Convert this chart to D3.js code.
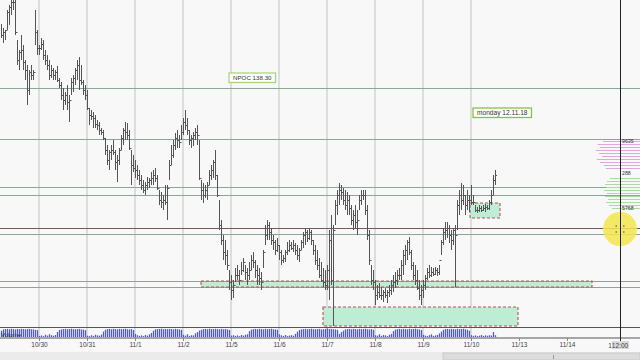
<!DOCTYPE html>
<html>
<head>
<meta charset="utf-8">
<script src="https://cdn.jsdelivr.net/npm/d3@7"></script>
<style>
html, body { margin: 0; padding: 0; background: #f8f8f8; }
svg { display: block; font-family: "Liberation Sans", Arial, sans-serif; }
</style>
</head>
<body>
<svg id="chart" width="640" height="360"></svg>
<script>
// Hourly bars, prices in ticks above 130.50 (1 tick = 0.025)
var highs = [
  376,372,370,390,395,400,403,400,360,350,365,355,
  340,335,330,335,330,390,370,355,362,360,350,345,
  340,335,332,330,334,322,318,312,308,315,305,322,
  325,332,340,343,335,320,315,310,292,290,288,285,
  280,278,272,270,262,255,250,255,260,250,245,252,
  265,272,278,277,270,250,245,240,235,230,225,220,
  218,223,222,228,230,232,225,210,208,205,215,215,
  240,255,260,267,270,265,275,282,290,282,270,265,
  268,272,275,260,220,217,215,218,230,235,240,250,
  225,200,180,165,160,150,130,125,120,132,135,130,
  138,142,135,132,138,145,148,140,135,132,128,150,
  175,180,178,172,165,160,162,155,150,145,150,158,
  160,158,160,157,155,152,160,168,172,170,172,170,
  160,155,150,142,138,132,130,135,170,185,175,200,
  210,217,215,212,210,208,205,195,190,195,190,205,
  210,210,210,195,170,135,130,120,115,117,113,110,
  112,110,115,120,125,128,130,132,140,150,155,160,
  163,150,138,135,130,120,115,120,125,132,135,133,
  132,133,132,135,160,172,178,178,175,170,172,175,
  200,210,217,215,205,210,205,215,205,195,193,195,
  194,195,196,195,200,210,225,230
];
var lows = [
  362,357,360,370,375,385,390,365,335,330,340,330,
  320,295,305,320,320,355,345,345,350,340,335,330,
  320,322,320,320,318,312,300,290,295,290,278,305,
  308,315,320,310,315,305,300,290,275,280,272,272,
  270,265,265,260,245,235,230,240,245,230,218,235,
  250,255,260,260,250,215,228,222,220,215,210,207,
  205,210,212,215,215,218,210,195,192,190,195,180,
  220,235,242,250,252,252,260,265,270,265,255,252,
  254,260,255,220,200,197,202,200,215,220,222,220,
  203,170,155,140,135,130,110,100,102,118,120,115,
  125,128,120,115,120,130,132,122,115,115,110,132,
  155,160,160,155,150,145,148,140,135,137,138,145,
  148,150,148,145,140,138,150,152,155,158,160,155,
  145,135,130,122,118,113,110,110,100,115,74,175,
  185,195,200,195,190,185,185,175,170,172,165,190,
  195,200,185,160,135,115,110,95,100,102,100,98,
  102,97,103,105,108,112,115,120,120,125,135,140,
  145,130,120,115,110,100,95,102,110,120,122,123,
  124,125,124,125,145,155,160,162,157,150,155,113,
  170,185,190,195,185,190,188,195,195,188,187,188,
  188,189,188,190,190,195,205,215
];
var closes = [
  365,368,370,388,393,398,398,368,340,348,350,338,
  330,310,328,325,328,368,352,352,356,345,340,335,
  325,330,325,328,320,315,305,300,305,298,300,318,
  322,330,335,320,318,310,305,292,285,284,282,276,
  275,270,268,262,250,240,248,250,248,238,240,250,
  262,270,268,265,252,235,232,230,225,220,215,210,
  215,218,220,222,225,222,212,200,198,200,198,212,
  235,245,255,262,260,258,268,278,275,270,260,262,
  265,268,265,222,210,205,210,215,225,230,238,225,
  205,175,160,148,145,135,118,110,115,125,125,120,
  130,138,128,125,130,140,138,130,125,122,118,148,
  165,175,168,160,158,150,155,148,140,142,148,150,
  155,152,155,150,145,150,158,165,168,162,168,160,
  150,140,135,125,120,118,115,130,160,120,170,195,
  205,210,208,200,195,200,192,180,185,178,180,200,
  205,205,190,165,140,120,118,105,108,105,105,108,
  105,108,110,115,118,120,125,125,135,145,150,158,
  148,135,125,120,112,105,110,115,122,128,125,128,
  126,130,128,140,158,168,170,172,165,160,170,165,
  195,205,200,205,195,200,200,198,198,190,190,192,
  190,192,193,192,198,205,220,225
];
var volumes = [
  70,85,88,90,86,92,88,84,90,87,91,89,85,88,90,86,84,80,76,
  12,18,10,25,15,30,20,14,22,
  55,78,85,88,90,86,89,92,87,85,88,90,84,82,75,
  15,10,20,12,25,18,14,28,
  60,80,88,90,86,91,88,85,90,87,89,92,86,84,88,78,
  35,20,12,18,10,22,15,30,45,
  70,85,88,90,92,86,89,87,90,88,85,91,86,84,80,
  25,15,30,12,20,18,40,
  55,72,80,88,90,86,92,89,87,90,88,85,91,86,88,84,78,
  15,20,12,18,10,22,16,25,30,
  65,82,88,90,86,91,88,85,90,87,89,92,86,84,80,
  30,18,12,22,10,16,20,14,35,
  60,78,85,88,90,86,89,92,87,85,88,90,84,86,89,95,88,90,86,84,80,
  35,55,
  70,85,88,90,86,91,88,85,90,87,89,92,86,84,88,80,
  20,15,30,12,22,18,10,25,35,
  65,82,88,90,86,91,88,85,90,87,89,92,86,84,78,
  25,15,10,20,30,12,18,22,40,
  60,80,88,90,86,91,88,85,90,87,89,92,86,80,70,
  20,12,18,10,15,22,12,18,14,20,16,
  55,20
];

// day labels sit on the first bar of each day
var dayLabels = ["10/30","10/31","11/1","11/2","11/5","11/6","11/7","11/8","11/9","11/10","11/13","11/14"];
var firstDayIndex = 19, barsPerDay = 24, daysWithData = 10;

// horizontal price levels (ticks) and the darker one
var levels = [312, 261, 213, 205, 172, 166, 119, 113];
var darkLevel = 172;

// zones: [startBar, endBar, topTick, bottomTick]
var zones = [[100, 295.5, 119, 113], [161, 258.5, 93, 74], [234.5, 249.5, 197, 182]];

// volume profile on the right
var profileHiLevels = [259,256,253,250,247,244,241,238,235,232];
var profileHiVols   = [410,470,445,490,455,420,480,445,400,380];
var profileLoLevels = [222,219,216,213,210,207,204,201,198,195,192];
var profileLoVols   = [333,367,389,378,400,367,389,356,378,344,311];
var profileLabels = [[259, "9635"], [227, "288"], [192, "5768"]];

var npoc = {bar: 114, tick: 327, text: "NPOC 138.30"};
var dayNote = {bar: 236, tick: 292, text: "monday 12.11.18"};
var cursor = {bar: 309.5, tick: 171, label: "12:00"};

var svg = d3.select("#chart"),
    width = +svg.attr("width"),
    height = +svg.attr("height");

var axisY = 338;

var x = d3.scaleLinear().domain([0, 320]).range([1, 641]);
var y = d3.scaleLinear().domain([74, 400]).range([326, 0]);
var yVol = d3.scaleLinear().domain([0, 100]).range([337, 328]);
var profW = d3.scaleLinear().domain([0, 500]).range([0, 45]);

svg.append("rect").attr("width", width).attr("height", height).attr("fill", "#f8f8f8");

// scrollbar at the very bottom
svg.append("rect").attr("x", 0).attr("y", 352).attr("width", width).attr("height", 8).attr("fill", "#ebebeb");
svg.append("rect").attr("x", 443).attr("y", 353).attr("width", 197).attr("height", 7)
    .attr("fill", "#dcdcdc").attr("stroke", "#cacaca");
svg.append("line").attr("x1", 553.5).attr("x2", 553.5).attr("y1", 355).attr("y2", 359).attr("stroke", "#999");

var chart = svg.append("g");
chart.append("clipPath").attr("id", "clip")
    .append("rect").attr("width", width).attr("height", 327);

// day grid
var dayIdx = dayLabels.map(function (d, k) { return firstDayIndex + k * barsPerDay; });
chart.selectAll("line.grid")
    .data(dayIdx.slice(0, daysWithData))
    .enter().append("line")
    .attr("class", "grid")
    .attr("x1", function (d) { return x(d); })
    .attr("x2", function (d) { return x(d); })
    .attr("y1", 0).attr("y2", axisY)
    .attr("stroke", "#d5d5d5").attr("stroke-width", 1.5);

// zone fills
chart.selectAll("rect.zone")
    .data(zones)
    .enter().append("rect")
    .attr("class", "zone")
    .attr("x", function (d) { return x(d[0]); })
    .attr("y", function (d) { return y(d[2]); })
    .attr("width", function (d) { return x(d[1]) - x(d[0]); })
    .attr("height", function (d) { return y(d[3]) - y(d[2]); })
    .attr("fill", "#bdeed5");

// levels
chart.selectAll("line.level")
    .data(levels)
    .enter().append("line")
    .attr("class", "level")
    .attr("x1", 0).attr("x2", width)
    .attr("y1", function (d) { return y(d) + 0.5; })
    .attr("y2", function (d) { return y(d) + 0.5; })
    .attr("stroke", function (d) { return d === darkLevel ? "#6e5e5e" : "#8aa795"; })
    .attr("stroke-width", 1.2);

// profile
function profile(levelsArr, vols, color) {
    chart.append("g").selectAll("line")
        .data(levelsArr)
        .enter().append("line")
        .attr("x1", function (d, i) { return width - profW(vols[i]); })
        .attr("x2", width)
        .attr("y1", function (d) { return y(d) + 0.5; })
        .attr("y2", function (d) { return y(d) + 0.5; })
        .attr("stroke", color).attr("stroke-width", 1.1);
}
profile(profileHiLevels, profileHiVols, "#e2a6df");
profile(profileLoLevels, profileLoVols, "#a9dca3");

// zone borders
chart.selectAll("rect.zoneEdge")
    .data(zones)
    .enter().append("rect")
    .attr("class", "zoneEdge")
    .attr("x", function (d) { return x(d[0]); })
    .attr("y", function (d) { return y(d[2]); })
    .attr("width", function (d) { return x(d[1]) - x(d[0]); })
    .attr("height", function (d) { return y(d[3]) - y(d[2]); })
    .attr("fill", "none")
    .attr("stroke", "#c2504e").attr("stroke-width", 1.1)
    .attr("stroke-dasharray", "3,2");

// OHLC bars
var bars = chart.append("g").attr("clip-path", "url(#clip)")
    .attr("stroke", "#555").attr("stroke-width", 1);
var idx = d3.range(highs.length);
bars.selectAll("line.hl")
    .data(idx)
    .enter().append("line")
    .attr("x1", function (i) { return x(i) + 0.5; })
    .attr("x2", function (i) { return x(i) + 0.5; })
    .attr("y1", function (i) { return y(highs[i]); })
    .attr("y2", function (i) { return y(lows[i]); });
bars.selectAll("line.op")
    .data(idx.slice(1))
    .enter().append("line")
    .attr("x1", function (i) { return x(i) - 1; })
    .attr("x2", function (i) { return x(i) + 0.5; })
    .attr("y1", function (i) { return y(closes[i - 1]) + 0.5; })
    .attr("y2", function (i) { return y(closes[i - 1]) + 0.5; });
bars.selectAll("line.cl")
    .data(idx)
    .enter().append("line")
    .attr("x1", function (i) { return x(i) + 0.5; })
    .attr("x2", function (i) { return x(i) + 2; })
    .attr("y1", function (i) { return y(closes[i]) + 0.5; })
    .attr("y2", function (i) { return y(closes[i]) + 0.5; });

// volume strip
svg.selectAll("line.vol")
    .data(volumes)
    .enter().append("line")
    .attr("x1", function (d, i) { return x(i) + 0.5; })
    .attr("x2", function (d, i) { return x(i) + 0.5; })
    .attr("y1", yVol(0))
    .attr("y2", function (d) { return yVol(d); })
    .attr("stroke", "#4f5cc9").attr("stroke-width", 1.3);
svg.append("line").attr("x1", 0).attr("x2", width).attr("y1", 327.5).attr("y2", 327.5)
    .attr("stroke", "#555").attr("stroke-width", 1.2);
svg.append("line").attr("x1", 0).attr("x2", width).attr("y1", axisY).attr("y2", axisY)
    .attr("stroke", "#555").attr("stroke-width", 1.2);
svg.append("text").attr("x", 1).attr("y", 336.5)
    .attr("font-size", 6).attr("fill", "#333").text("Volume");

// axis
var xAxis = d3.axisBottom(x)
    .tickValues(dayIdx)
    .tickFormat(function (d, i) { return dayLabels[i]; })
    .tickSize(3);
var ax = svg.append("g").attr("transform", "translate(0," + axisY + ")").call(xAxis);
ax.select(".domain").remove();
ax.selectAll(".tick line").attr("stroke", "#888");
ax.selectAll(".tick text").attr("font-size", 6.5).attr("fill", "#444").attr("dy", "0.5em")
    .attr("font-family", "Liberation Sans, Arial, sans-serif");

// annotation boxes
function note(n, fs, border) {
    var g = svg.append("g");
    var t = g.append("text")
        .attr("x", x(n.bar) + 4).attr("y", y(n.tick) + 7)
        .attr("font-size", fs).attr("fill", "#333").text(n.text);
    var w = t.node().getComputedTextLength();
    g.insert("rect", "text")
        .attr("x", x(n.bar)).attr("y", y(n.tick))
        .attr("width", w + 8).attr("height", 9.5)
        .attr("fill", "#fff").attr("stroke", border).attr("stroke-width", 1.3);
}
note(npoc, 6.2, "#a8d77a");
note(dayNote, 6.6, "#86c440");

// profile numbers
svg.selectAll("text.pl")
    .data(profileLabels)
    .enter().append("text")
    .attr("class", "pl")
    .attr("x", 622).attr("y", function (d) { return y(d[0]) + 2; })
    .attr("font-size", 5.2).attr("fill", "#333")
    .text(function (d) { return d[1]; });

// cursor
var cx = x(cursor.bar);
svg.append("circle").attr("cx", cx).attr("cy", y(cursor.tick)).attr("r", 17)
    .attr("fill", "#f2e64c").attr("opacity", 0.85);
svg.append("line").attr("x1", cx + 0.5).attr("x2", cx + 0.5).attr("y1", 0).attr("y2", 341)
    .attr("stroke", "#222").attr("stroke-width", 1);
[[-3, -3], [3, -3], [-3, 3], [3, 3]].forEach(function (o) {
    svg.append("line")
        .attr("x1", cx + o[0]).attr("x2", cx + o[0] + (o[0] < 0 ? -1.5 : 1.5))
        .attr("y1", y(cursor.tick) + o[1]).attr("y2", y(cursor.tick) + o[1])
        .attr("stroke", "#444");
});
svg.append("rect").attr("x", cx - 8).attr("y", 341).attr("width", 17).attr("height", 8)
    .attr("fill", "#d9d9d9");
svg.append("text").attr("x", cx).attr("y", 347.5).attr("text-anchor", "middle")
    .attr("font-size", 6.5).attr("fill", "#444").text(cursor.label);
svg.append("text").attr("x", cx - 10).attr("y", 347.5).attr("text-anchor", "middle")
    .attr("font-size", 6.5).attr("fill", "#444").text("1");
</script>
</body>
</html>
